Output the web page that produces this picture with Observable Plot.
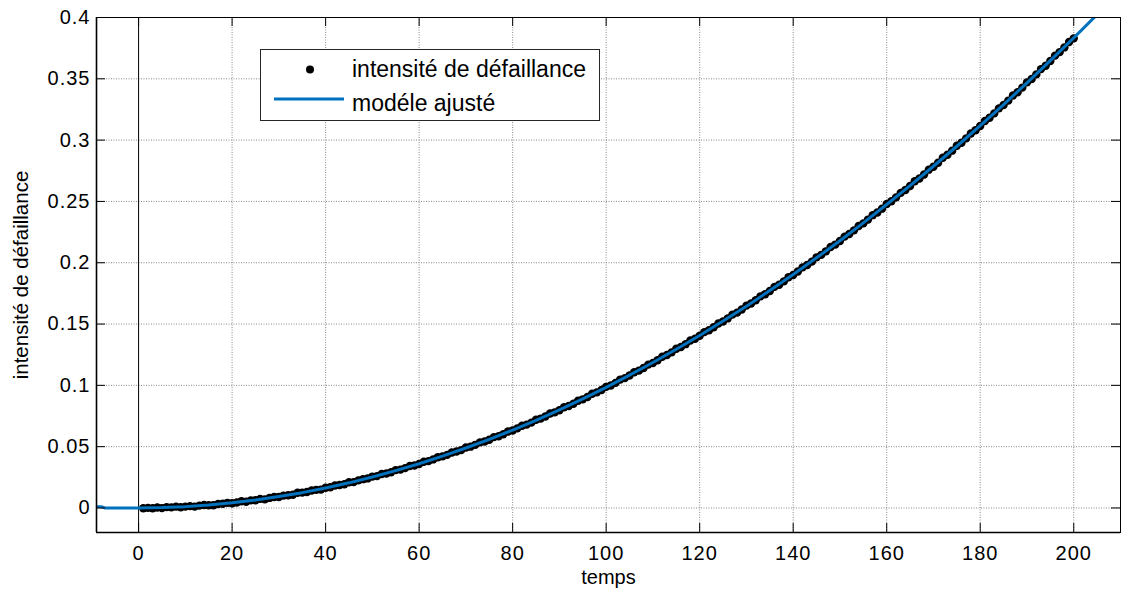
<!DOCTYPE html>
<html>
<head>
<meta charset="utf-8">
<script src="https://cdn.jsdelivr.net/npm/d3@7"></script>
<script src="https://cdn.jsdelivr.net/npm/@observablehq/plot@0.6"></script>
<style>
  html, body { margin: 0; padding: 0; background: #fff; }
  #chart svg { display: block; }
</style>
</head>
<body>
<div id="chart"></div>
<script>
// Observed failure intensity, one sample per time unit (t = 1 … 200)
const obsTime = d3.range(1, 201);
const obsIntensity = [
  -0.0002, 0.0001, -0.0002, 0.0004, -0.0001, 0.0007, 0.0005, 0.0011, 0.0006, 0.0011,
  0.0015, 0.0011, 0.0019, 0.0024, 0.0022, 0.0022, 0.0032, 0.0034, 0.0042, 0.0039,
  0.0045, 0.0055, 0.0051, 0.0062, 0.0063, 0.0074, 0.0070, 0.0082, 0.0090, 0.0090,
  0.0101, 0.0104, 0.0108, 0.0124, 0.0125, 0.0130, 0.0143, 0.0148, 0.0150, 0.0165,
  0.0169, 0.0183, 0.0187, 0.0194, 0.0210, 0.0211, 0.0225, 0.0235, 0.0241, 0.0256,
  0.0260, 0.0277, 0.0281, 0.0291, 0.0309, 0.0313, 0.0325, 0.0342, 0.0347, 0.0359,
  0.0377, 0.0382, 0.0396, 0.0414, 0.0421, 0.0433, 0.0453, 0.0460, 0.0472, 0.0493,
  0.0500, 0.0515, 0.0535, 0.0542, 0.0557, 0.0578, 0.0585, 0.0601, 0.0624, 0.0632,
  0.0649, 0.0671, 0.0680, 0.0696, 0.0719, 0.0729, 0.0746, 0.0770, 0.0780, 0.0797,
  0.0822, 0.0832, 0.0850, 0.0875, 0.0886, 0.0905, 0.0931, 0.0943, 0.0962, 0.0988,
  0.0999, 0.1020, 0.1047, 0.1059, 0.1080, 0.1107, 0.1120, 0.1141, 0.1169, 0.1182,
  0.1205, 0.1233, 0.1247, 0.1269, 0.1298, 0.1313, 0.1336, 0.1366, 0.1380, 0.1404,
  0.1434, 0.1450, 0.1474, 0.1505, 0.1521, 0.1546, 0.1577, 0.1593, 0.1619, 0.1650,
  0.1667, 0.1694, 0.1726, 0.1743, 0.1770, 0.1803, 0.1821, 0.1848, 0.1882, 0.1900,
  0.1928, 0.1962, 0.1981, 0.2009, 0.2044, 0.2064, 0.2093, 0.2128, 0.2148, 0.2177,
  0.2213, 0.2234, 0.2264, 0.2300, 0.2321, 0.2352, 0.2388, 0.2410, 0.2441, 0.2479,
  0.2501, 0.2533, 0.2570, 0.2593, 0.2626, 0.2664, 0.2687, 0.2720, 0.2759, 0.2783,
  0.2816, 0.2856, 0.2881, 0.2914, 0.2954, 0.2979, 0.3014, 0.3054, 0.3080, 0.3115,
  0.3156, 0.3182, 0.3218, 0.3259, 0.3286, 0.3322, 0.3364, 0.3391, 0.3428, 0.3471,
  0.3499, 0.3536, 0.3579, 0.3607, 0.3645, 0.3689, 0.3718, 0.3756, 0.3800, 0.3830
];

// Fitted model curve
const fitTime = [-9, -8, -7.5, -7, -5, 0, 5, 10, 15, 20, 25, 30, 35, 40, 45, 50,
  55, 60, 65, 70, 75, 80, 85, 90, 95, 100, 105, 110, 115, 120, 125, 130, 135, 140,
  145, 150, 155, 160, 165, 170, 175, 180, 185, 190, 195, 200, 205, 210];
const fitIntensity = [0.0011, 0.0011, 0.0004, 0, 0, 0, 0.0003, 0.0011, 0.0024, 0.0042,
  0.0065, 0.0093, 0.0125, 0.0163, 0.0205, 0.0253, 0.0305, 0.0361, 0.0423, 0.0489,
  0.0560, 0.0635, 0.0715, 0.0800, 0.0890, 0.0984, 0.1083, 0.1186, 0.1294, 0.1407,
  0.1525, 0.1646, 0.1773, 0.1904, 0.2040, 0.2180, 0.2325, 0.2475, 0.2629, 0.2787,
  0.2950, 0.3118, 0.3290, 0.3467, 0.3648, 0.3834, 0.4024, 0.4219];

// Axes
const xDomain = [-9, 210];
const yDomain = [-0.02, 0.4];
const xTicks = [0, 20, 40, 60, 80, 100, 120, 140, 160, 180, 200];
const yTicks = [0, 0.05, 0.1, 0.15, 0.2, 0.25, 0.3, 0.35, 0.4];
const yTickLabels = ["0", "0.05", "0.1", "0.15", "0.2", "0.25", "0.3", "0.35", "0.4"];
const xLabel = "temps";
const yLabel = "intensité de défaillance";
const seriesNames = ["intensité de défaillance", "modéle ajusté"];

const observed = obsTime.map((t, i) => ({t, v: obsIntensity[i]}));
const fitted = fitTime.map((t, i) => ({t, v: fitIntensity[i]}));

const W = 1122, H = 589;
const M = {left: 96, right: 2, top: 17, bottom: 57};
const innerW = W - M.left - M.right;
const innerH = H - M.top - M.bottom;
const tickLen = 9;
const blue = "#0072BD";
const gridStyle = {stroke: "#8a8a8a", strokeDasharray: "1,1.5", strokeWidth: 1};
const font = "'Liberation Sans', Arial, Helvetica, sans-serif";

const chart = Plot.plot({
  width: W,
  height: H,
  marginLeft: M.left,
  marginRight: M.right,
  marginTop: M.top,
  marginBottom: M.bottom,
  x: {domain: xDomain},
  y: {domain: yDomain},
  style: {fontFamily: font, fontSize: "20px", color: "black", background: "white"},
  marks: [
    // dotted grid
    Plot.ruleX(xTicks.filter(d => d !== 0), {x: d => d, ...gridStyle}),
    Plot.ruleY(yTicks, {y: d => d, ...gridStyle}),
    // solid line at t = 0
    Plot.ruleX([0], {x: d => d, stroke: "black", strokeWidth: 1}),
    // observations then fitted model
    Plot.dot(observed, {x: "t", y: "v", r: 4.2, fill: "black", stroke: "none"}),
    Plot.line(fitted, {x: "t", y: "v", stroke: blue, strokeWidth: 3, clip: true}),
    // inward tick marks on all four sides
    Plot.tickX(xTicks, {x: d => d, insetTop: innerH - tickLen, stroke: "black"}),
    Plot.tickX(xTicks, {x: d => d, insetBottom: innerH - tickLen, stroke: "black"}),
    Plot.tickY(yTicks, {y: d => d, insetRight: innerW - tickLen, stroke: "black"}),
    Plot.tickY(yTicks, {y: d => d, insetLeft: innerW - tickLen, stroke: "black"}),
    // box
    Plot.frame({stroke: "black", strokeWidth: 1}),
    Plot.ruleX([xDomain[0]], {x: d => d, stroke: "black", strokeWidth: 1.6}),
    Plot.ruleY([yDomain[0]], {y: d => d, stroke: "black", strokeWidth: 1.6}),
    // tick labels
    Plot.axisX(xTicks, {tickSize: 0, tickPadding: 13, label: null, fontSize: 20}),
    Plot.axisY(yTicks, {tickSize: 0, tickPadding: 6, label: null, fontSize: 20,
      tickFormat: d => yTickLabels[yTicks.indexOf(d)]}),
    // axis titles
    Plot.text([xLabel], {text: d => d, frameAnchor: "bottom", textAnchor: "middle",
      dy: 51, fontSize: 20}),
    Plot.text([yLabel], {text: d => d, frameAnchor: "left", textAnchor: "middle",
      lineAnchor: "middle", dx: -75, rotate: -90, fontSize: 20.5})
  ]
});

document.getElementById("chart").appendChild(chart);

// widen the tick label glyphs a little
d3.select(chart).selectAll("g[aria-label='x-axis tick label'], g[aria-label='y-axis tick label']")
  .attr("letter-spacing", "1px");

// legend box
const legend = d3.select(chart).append("g")
  .attr("font-family", font)
  .attr("font-size", 23)
  .attr("text-anchor", "start")
  .attr("fill", "black");
legend.append("rect")
  .attr("x", 260.5).attr("y", 49.5).attr("width", 339).attr("height", 71)
  .attr("fill", "white").attr("stroke", "#262626").attr("stroke-width", 1);
legend.append("circle")
  .attr("cx", 310).attr("cy", 69.5).attr("r", 4).attr("fill", "black");
legend.append("text")
  .attr("text-anchor", "start")
  .attr("x", 352).attr("y", 77).text(seriesNames[0]);
legend.append("line")
  .attr("x1", 274).attr("x2", 344).attr("y1", 99).attr("y2", 99)
  .attr("stroke", blue).attr("stroke-width", 3);
legend.append("text")
  .attr("text-anchor", "start")
  .attr("x", 352).attr("y", 111).text(seriesNames[1]);
</script>
</body>
</html>
